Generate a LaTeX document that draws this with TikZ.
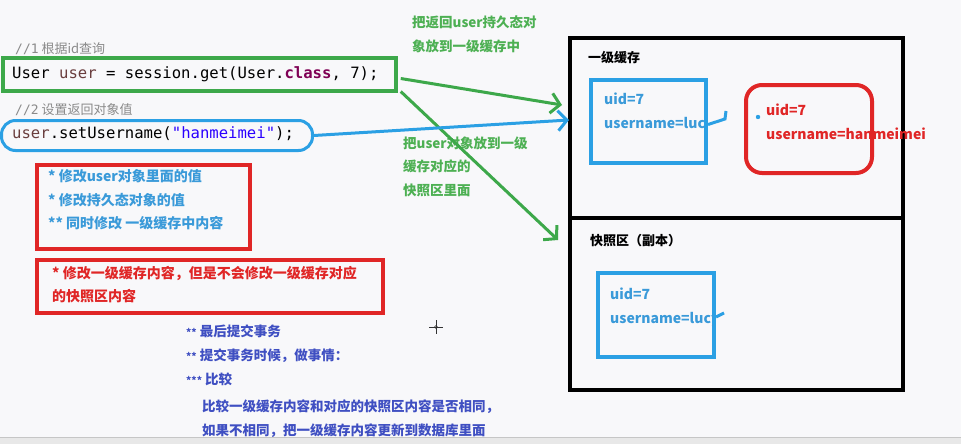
\documentclass[tikz,border=0pt]{standalone}
\usepackage{fontspec}
\setmainfont{Noto Sans CJK SC}
\newfontfamily\cjk{Noto Sans CJK SC}
\newfontfamily\codefont{DejaVu Sans Mono}
\usetikzlibrary{arrows.meta}
\definecolor{bg}{HTML}{F8F8FA}
\definecolor{gbox}{HTML}{3DA84A}
\definecolor{gtxt}{HTML}{4DB053}
\definecolor{bbox}{HTML}{2BA0E4}
\definecolor{btxt}{HTML}{3A9AD9}
\definecolor{rbox}{HTML}{E02626}
\definecolor{ptxt}{HTML}{3F4FC2}
\definecolor{brown}{HTML}{6A3E3E}
\definecolor{kw}{HTML}{7F0055}
\definecolor{str}{HTML}{2A00FF}
\definecolor{cmt}{HTML}{8A8A8A}
\begin{document}
\begin{tikzpicture}[x=1pt,y=-1pt,
  txt/.style={anchor=west,inner sep=0,text height=0.8em,text depth=0.2em},
  green txt/.style={txt,text=gtxt,font=\cjk\bfseries\fontsize{13.5}{16}\selectfont},
  blue txt/.style={txt,text=btxt,font=\cjk\bfseries\fontsize{14}{16}\selectfont},
  red txt/.style={txt,text=rbox,font=\cjk\bfseries\fontsize{14}{16}\selectfont},
  purple txt/.style={txt,text=ptxt,font=\cjk\bfseries\fontsize{13.5}{16}\selectfont},
  field txt/.style={txt,font=\cjk\bfseries\fontsize{14}{16}\selectfont},
  code/.style={txt,font=\codefont\fontsize{15.6}{18}\selectfont},
  cmtstyle/.style={txt,text=cmt,font=\cjk\fontsize{13}{16}\selectfont},
  title txt/.style={txt,text=black,font=\cjk\bfseries\fontsize{13}{16}\selectfont},
  box/.style={draw,inner sep=0,line width=4pt},
  conn/.style={line width=3pt,-{Straight Barb[length=9pt,width=20pt,line width=3pt]}}
]
\fill[bg] (0,0) rectangle (961,444);
\useasboundingbox (0,0) rectangle (961,444);
\fill[gray!18] (0,437) rectangle (961,444);
\draw[gray!45,line width=1pt] (0,437) -- (961,437);

% code area
\node[cmtstyle] (c1) at (15,51) {{\codefont //1} 根据id查询};
\node[box,draw=gbox,line width=3.5pt,minimum width=393pt,minimum height=33pt] (getbox) at (199.5,74.5) {};
\node[code] (code1) at (12,75) {User \textcolor{brown}{user} = session.get(User.\textcolor{kw}{\bfseries class}, 7);};
\node[cmtstyle] (c2) at (15,111) {{\codefont //2} 设置返回对象值};
\node[draw=bbox,line width=3pt,rounded corners=14pt,inner sep=0,minimum width=311pt,minimum height=30pt] (setbox) at (157,135.5) {};
\node[code] (code2) at (12,135) {\textcolor{brown}{user}.setUsername(\textcolor{str}{"hanmeimei"});};

% red box 1
\node[box,draw=rbox,line width=3.5pt,minimum width=213pt,minimum height=84pt] (r1) at (143.5,207) {};
\node[blue txt] (r1a) at (48,178) {* 修改user对象里面的值};
\node[blue txt] (r1b) at (48,202) {* 修改持久态对象的值};
\node[blue txt] (r1c) at (48,225) {** 同时修改 一级缓存中内容};

% red box 2
\node[box,draw=rbox,line width=3.5pt,minimum width=346pt,minimum height=53pt] (r2) at (210,286.5) {};
\node[red txt] (r2a) at (52,275) {* 修改一级缓存内容，但是不会修改一级缓存对应};
\node[red txt] (r2b) at (52,298) {的快照区内容};

% purple notes
\node[purple txt] (p1) at (186,333) {{\fontsize{10}{12}\selectfont **} 最后提交事务};
\node[purple txt] (p2) at (186,357) {{\fontsize{10}{12}\selectfont **} 提交事务时候，做事情：};
\node[purple txt] (p3) at (186,381) {{\fontsize{10}{12}\selectfont ***} 比较};
\node[purple txt] (p4) at (202,408) {比较一级缓存内容和对应的快照区内容是否相同，};
\begin{scope}
\clip (0,0) rectangle (961,436);
\node[purple txt] (p5) at (202,432) {如果不相同，把一级缓存内容更新到数据库里面};
\end{scope}

% cursor
\draw[black!80,line width=0.8pt] (429,327) -- (443,327) (436,320) -- (436,334);
\draw[black!80,line width=0.6pt] (436,327) circle (1.5pt);

% green labels
\node[green txt] (g1) at (412,25) {把返回user持久态对};
\node[green txt] (g2) at (412,49) {象放到一级缓存中};
\node[green txt] (g3) at (403,145) {把user对象放到一级};
\node[green txt] (g4) at (403,168) {缓存对应的};
\node[green txt] (g5) at (403,192) {快照区里面};

% right big boxes
\node[box,minimum width=333pt,minimum height=180pt] (cache) at (736.5,128) {};
\node[box,minimum width=333pt,minimum height=172pt] (snap) at (736.5,304) {};
\node[title txt] (t1) at (588,60) {一级缓存};
\node[title txt] (t2) at (590,242) {快照区（副本）};

% cache blue box
\node[box,draw=bbox,minimum width=115pt,minimum height=83pt] (ub1) at (648.5,121.5) {};
\node[field txt,text=btxt] (u1a) at (604,101) {uid=7};
\begin{scope}
\clip (590,80) rectangle (704,165);
\node[field txt,text=btxt] (u1b) at (604,125) {username=lucy};
\end{scope}
\coordinate (hk1) at (725,119);
\coordinate (hk2) at (726,111);
\draw[bbox,line width=3pt] ([yshift=-3pt]ub1.east) -- (hk1) -- (hk2);

% red rounded box
\node[draw=rbox,line width=4pt,rounded corners=16pt,inner sep=0,minimum width=126pt,minimum height=88pt] (ur) at (809,129) {};
\fill[bbox] (758,117) circle (2.2pt);
\node[field txt,text=rbox] (ura) at (766,112) {uid=7};
\node[field txt,text=rbox] (urb) at (766,136) {username=hanmeimei};

% snapshot blue box
\node[box,draw=bbox,minimum width=116pt,minimum height=84pt] (ub2) at (656,315) {};
\node[field txt,text=btxt] (u2a) at (610,296) {uid=7};
\begin{scope}
\clip (596,270) rectangle (712,360);
\node[field txt,text=btxt] (u2b) at (610,320) {username=lucy};
\end{scope}
\coordinate (stub) at (724,313);
\draw[bbox,line width=3pt] ([yshift=-2pt]ub2.east) -- (stub);

% connectors
\coordinate (ga) at (562,105);
\coordinate (gb) at (558,240);
\coordinate (ba) at (569,120);
\draw[conn,gbox] ([shift={(3,4)}]getbox.east) -- (ga);
\draw[conn,gbox] ([shift={(3,17)}]getbox.east) -- (gb);
\draw[conn,bbox] (setbox.east) -- (ba);
\end{tikzpicture}
\end{document}
